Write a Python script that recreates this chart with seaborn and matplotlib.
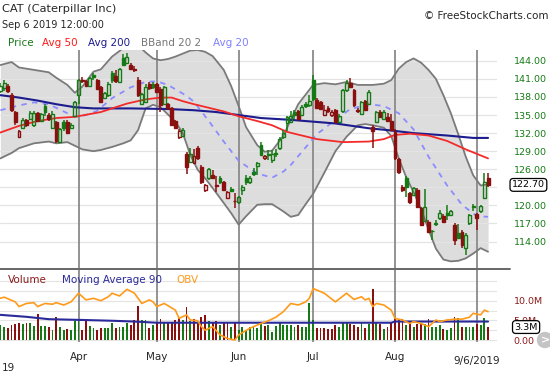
import numpy as np
import seaborn as sns
import matplotlib
matplotlib.use("Agg")
import matplotlib.pyplot as plt
from matplotlib.transforms import blended_transform_factory
from matplotlib.patches import Ellipse
from matplotlib.lines import Line2D

# CAT daily candles, trading days 1 Mar 2019 .. 6 Sep 2019 (index 0..131)
OPEN = [139.0, 139.5, 139.9, 138.3, 135.5, 131.4, 132.9, 134.2, 134.4, 133.3,
        135.3, 134.0, 136.5, 135.0, 132.8, 133.9, 130.6, 133.9, 133.9, 132.9,
        134.9, 138.3, 140.9, 140.6, 139.8, 141.7, 140.8, 139.7, 137.9, 138.3,
        141.9, 141.5, 140.5, 144.4, 143.6, 143.3, 142.6, 140.8, 136.9, 137.2,
        140.2, 140.2, 140.2, 139.4, 136.9, 136.8, 136.1, 134.0, 131.4, 131.6,
        128.5, 127.2, 127.0, 129.6, 126.4, 122.6, 124.5, 125.0, 123.3, 124.5,
        123.9, 121.3, 122.8, 120.8, 120.6, 122.6, 124.5, 123.9, 125.6, 126.5,
        130.0, 127.8, 128.6, 127.5, 128.7, 129.5, 131.4, 133.6, 133.9, 135.5,
        135.6, 135.0, 136.8, 136.6, 140.8, 137.5, 137.2, 135.0, 136.2, 135.0,
        135.8, 133.9, 135.7, 139.1, 140.3, 139.1, 135.8, 135.2, 137.3, 136.9,
        133.0, 133.9, 135.5, 134.4, 134.7, 134.0, 132.2, 127.7, 123.1, 124.5,
        122.0, 121.8, 122.6, 119.6, 117.4, 117.2, 115.8, 117.0, 117.9, 118.3,
        118.7, 118.4, 116.7, 115.4, 115.6, 112.9, 117.0, 119.9, 118.5, 119.0,
        121.2, 124.6]
HIGH = [140.3, 140.9, 140.2, 138.6, 135.7, 132.5, 134.5, 134.4, 135.6, 135.6,
        135.5, 135.4, 136.9, 135.4, 135.6, 134.0, 132.8, 134.1, 134.2, 133.6,
        137.3, 141.0, 141.3, 140.9, 141.3, 141.9, 141.0, 139.9, 138.8, 140.5,
        142.3, 142.4, 142.8, 145.2, 145.3, 143.6, 143.2, 141.3, 138.7, 140.1,
        140.5, 140.5, 140.4, 139.6, 139.9, 137.0, 136.3, 134.2, 132.6, 132.8,
        128.8, 129.5, 129.3, 129.9, 126.7, 123.6, 126.2, 125.8, 124.8, 124.8,
        124.1, 122.4, 123.1, 122.0, 121.6, 123.3, 125.0, 124.8, 126.2, 127.2,
        130.6, 128.4, 129.2, 129.2, 129.4, 131.3, 132.5, 134.9, 135.6, 135.9,
        135.9, 136.7, 137.1, 138.3, 141.6, 137.8, 137.4, 136.6, 136.5, 135.8,
        136.0, 135.2, 139.4, 140.9, 141.1, 139.3, 136.1, 137.4, 137.5, 139.1,
        133.4, 135.7, 135.8, 135.8, 135.4, 135.2, 132.6, 127.9, 123.4, 124.8,
        122.2, 123.1, 122.9, 119.8, 122.8, 117.5, 115.9, 117.6, 119.2, 118.6,
        120.1, 119.3, 117.0, 116.9, 115.9, 115.4, 118.6, 120.3, 118.7, 120.0,
        125.3, 125.3]
LOW = [138.6, 139.0, 138.6, 135.5, 133.4, 131.2, 132.6, 133.0, 134.1, 133.0,
       133.8, 133.8, 134.8, 134.0, 132.6, 130.4, 130.3, 132.3, 131.9, 132.7,
       134.7, 136.9, 140.4, 139.6, 139.6, 140.8, 139.3, 137.0, 137.6, 138.0,
       140.4, 140.3, 140.3, 143.2, 143.4, 142.5, 142.2, 138.0, 136.7, 137.0,
       139.2, 139.4, 138.7, 135.5, 136.6, 135.9, 133.1, 132.7, 131.1, 131.3,
       125.2, 127.0, 126.8, 127.6, 123.6, 122.3, 124.2, 124.3, 122.3, 123.6,
       122.4, 121.1, 122.3, 119.5, 120.3, 121.8, 123.4, 123.6, 124.9, 125.0,
       128.2, 127.5, 127.5, 127.1, 128.0, 129.2, 131.1, 132.3, 133.6, 134.4,
       134.2, 134.8, 136.1, 136.4, 137.3, 136.0, 135.9, 134.8, 135.4, 134.7,
       133.7, 133.6, 135.4, 138.8, 139.5, 136.4, 135.4, 135.0, 135.6, 136.6,
       129.6, 133.6, 134.5, 134.2, 133.9, 132.3, 127.6, 125.2, 122.3, 121.4,
       120.3, 121.6, 119.6, 116.5, 117.2, 115.4, 114.3, 116.6, 117.5, 117.0,
       117.6, 118.2, 113.5, 114.4, 113.0, 111.8, 116.8, 119.0, 115.9, 118.8,
       121.0, 123.0]
CLOSE = [139.8, 140.3, 139.0, 135.8, 133.8, 132.3, 134.2, 133.3, 135.3, 135.4,
         134.0, 135.1, 135.5, 134.3, 135.2, 130.7, 132.6, 132.9, 132.1, 133.4,
         137.1, 140.8, 140.7, 139.9, 141.1, 141.3, 139.4, 137.1, 138.6, 140.2,
         140.8, 140.6, 142.6, 143.3, 144.7, 142.6, 142.5, 138.4, 138.5, 139.7,
         139.5, 139.7, 138.9, 136.6, 139.7, 136.1, 133.3, 132.9, 132.3, 132.5,
         126.4, 128.6, 128.2, 127.8, 123.9, 123.4, 126.0, 124.5, 123.2, 123.8,
         122.6, 122.3, 122.45, 120.7, 121.4, 123.1, 123.9, 124.5, 125.2, 127.0,
         128.4, 128.2, 128.4, 128.5, 128.6, 131.1, 132.0, 134.7, 134.9, 135.0,
         134.4, 136.4, 136.5, 137.4, 137.6, 136.1, 136.0, 135.8, 135.6, 135.5,
         133.9, 134.8, 139.1, 140.4, 139.7, 136.6, 135.7, 137.1, 135.8, 138.9,
         132.4, 135.5, 134.7, 135.5, 134.0, 132.5, 127.8, 125.5, 122.6, 123.1,
         120.6, 122.9, 119.8, 116.7, 119.8, 115.6, 115.7, 116.9, 118.7, 117.2,
         118.4, 119.1, 114.3, 114.6, 113.4, 115.1, 118.4, 119.7, 117.9, 119.9,
         123.9, 123.4]
# volume in millions of shares
VOLUME = [3.8, 3.4, 3.0, 3.8, 4.2, 4.4, 4.2, 4.4, 4.4, 3.6,
          6.6, 3.6, 3.6, 3.4, 2.5, 5.8, 3.2, 2.5, 2.7, 2.5,
          4.9, 4.9, 2.5, 4.9, 3.6, 3.0, 2.5, 3.0, 3.0, 3.0,
          4.4, 3.0, 3.4, 3.4, 4.4, 3.8, 5.1, 8.7, 5.1, 5.1,
          3.0, 3.8, 4.4, 5.3, 4.4, 4.7, 4.7, 5.1, 5.5, 5.1,
          8.5, 4.9, 5.3, 4.7, 5.9, 6.4, 4.9, 4.7, 4.9, 3.8,
          4.7, 4.7, 3.4, 4.7, 2.5, 3.4, 2.5, 3.4, 3.6, 3.0,
          4.2, 3.6, 3.8, 2.1, 3.6, 4.7, 3.8, 3.8, 3.8, 3.4,
          3.8, 3.4, 3.4, 9.5, 5.1, 3.0, 3.0, 3.0, 2.7, 2.7,
          3.8, 3.4, 4.4, 4.4, 4.2, 3.8, 3.4, 4.7, 3.0, 4.2,
          12.9, 4.7, 4.2, 2.7, 3.4, 4.4, 5.5, 5.3, 5.3, 3.8,
          4.7, 3.4, 4.2, 4.2, 4.2, 5.3, 3.4, 3.4, 3.8, 2.7,
          2.5, 3.0, 5.8, 5.5, 3.4, 3.4, 3.4, 3.4, 4.2, 3.8,
          5.5, 3.3]

# indicators (day index, value)
MA50_X = [0, 5, 10, 15, 20, 27, 34, 39, 43, 46, 49, 52, 56, 60, 64, 69, 73, 77,
          85, 92, 99, 103, 106, 110, 115, 120, 125, 131]
MA50 = [132.1, 133.2, 134.0, 134.5, 134.7, 135.5, 136.9, 137.6, 137.9, 137.9,
        137.3, 136.8, 136.2, 135.6, 134.8, 134.0, 133.3, 132.2, 131.0, 130.5,
        130.6, 131.0, 131.7, 131.9, 131.6, 130.7, 129.3, 127.8]
MA200_X = [0, 5, 10, 15, 20, 25, 35, 45, 52, 58, 64, 70, 78, 90, 99, 104, 111,
           120, 127, 131]
MA200 = [138.3, 137.9, 137.4, 136.8, 136.3, 136.1, 136.1, 136.0, 135.8, 135.5,
         135.0, 134.5, 134.2, 133.6, 132.8, 132.5, 132.0, 131.6, 131.2, 131.2]
AVG20_X = [0, 5, 9, 13, 16, 20, 23, 26, 30, 35, 39, 42, 45, 50, 52, 56, 60, 64,
           69, 73, 76, 78, 81, 85, 90, 94, 99, 103, 107, 111, 115, 120, 124,
           128, 131]
AVG20 = [135.8, 136.6, 137.1, 136.8, 135.9, 134.7, 135.0, 135.7, 137.8, 139.6,
         140.5, 140.6, 140.0, 138.2, 137.2, 134.0, 130.6, 127.4, 125.3, 124.6,
         125.6, 126.7, 128.9, 131.8, 134.2, 136.0, 136.8, 136.5, 135.3, 132.6,
         128.1, 123.3, 120.1, 118.2, 118.1]
BB_X = [0, 3, 5, 9, 13, 15, 18, 20, 22, 25, 27, 30, 33, 35, 37, 39, 41, 43, 45,
        47, 49, 51, 53, 55, 57, 60, 62, 64, 66, 69, 71, 73, 76, 78, 80, 82, 84,
        87, 90, 93, 96, 98, 100, 103, 105, 107, 109, 111, 113, 115, 117, 119,
        121, 123, 125, 127, 129, 131]
BB_UPPER = [143.3, 143.8, 142.9, 142.5, 142.1, 141.2, 140.0, 138.7, 139.7, 142.2,
            142.6, 144.7, 146.1, 146.7, 146.6, 145.4, 144.4, 144.1, 144.3, 144.7,
            145.2, 145.7, 145.8, 145.5, 144.8, 142.5, 139.8, 136.5, 133.0, 130.0,
            128.9, 129.1, 131.5, 134.2, 136.8, 138.4, 140.0, 140.3, 140.1, 140.5,
            140.0, 140.0, 140.0, 140.2, 140.8, 142.7, 143.8, 144.4, 143.7, 142.5,
            141.0, 138.3, 135.3, 131.8, 128.1, 125.0, 123.3, 123.5]
BB_LOWER = [127.8, 128.7, 129.5, 130.3, 130.6, 130.3, 130.5, 129.9, 129.3, 129.0,
            129.2, 129.7, 130.3, 130.8, 132.5, 136.1, 136.7, 136.3, 135.1, 133.9,
            132.0, 128.4, 125.9, 124.5, 122.9, 120.4, 118.7, 116.8, 118.2, 120.1,
            120.2, 120.2, 119.0, 118.1, 118.4, 120.2, 121.9, 125.4, 129.0, 131.4,
            133.3, 133.5, 133.3, 132.9, 131.5, 127.8, 124.7, 122.2, 119.4, 116.0,
            112.8, 111.0, 110.7, 110.8, 111.2, 112.0, 112.9, 112.3]
MA90_X = [0, 7, 13, 22, 30, 36, 42, 60, 80, 100, 105, 106, 120, 131]
MA90 = [6.4, 5.9, 5.3, 5.1, 4.9, 4.7, 4.4, 4.4, 4.4, 4.4, 4.4, 4.7, 4.7, 4.7]
# on-balance volume, drawn on the volume panel scale
OBV_X = [0, 1, 4, 5, 7, 9, 10, 12, 14, 15, 17, 19, 21, 23, 25, 27, 29, 30, 32,
         34, 36, 38, 40, 41, 42, 44, 47, 48, 50, 51, 53, 54, 55, 57, 59, 61, 63,
         64, 67, 70, 72, 74, 76, 78, 80, 82, 83, 84, 87, 90, 93, 95, 97, 98, 99,
         100, 101, 103, 105, 106, 108, 110, 111, 113, 115, 117, 118, 120, 122,
         124, 126, 127, 129, 130, 131]
OBV = [10.6, 10.9, 9.7, 8.5, 9.3, 9.5, 8.5, 9.3, 9.1, 9.5, 8.9, 9.7, 11.9, 10.2,
       10.6, 10.0, 11.0, 11.9, 11.2, 12.9, 11.9, 9.3, 10.2, 9.7, 8.5, 9.3, 7.6,
       5.5, 6.4, 5.1, 4.9, 3.4, 2.5, 3.4, 1.3, 0.4, 0.0, 1.3, 3.0, 4.2, 4.9, 5.8,
       7.2, 9.3, 8.9, 9.7, 10.6, 13.1, 11.9, 9.7, 11.9, 10.3, 11.0, 10.2, 10.6,
       8.5, 9.3, 8.9, 7.6, 5.5, 5.1, 4.2, 4.7, 4.2, 3.4, 5.1, 4.7, 5.1, 5.3, 5.3,
       5.8, 6.8, 6.4, 7.6, 7.2]

MONTH_LINES = [21, 42, 64, 84, 106, 128]
MONTH_TICKS = [21, 42, 64, 84, 106]
MONTHS = ["Apr", "May", "Jun", "Jul", "Aug"]
PRICE_GRID = [114, 117, 120, 123, 126, 129, 132, 135, 138, 141, 144]
PRICE_TICKS = [114, 117, 120, 126, 129, 132, 135, 138, 141, 144]
VOL_GRID = [0, 2.5, 5, 7.5, 10, 12.5, 15]
VOL_LABELS = {0: "0.00", 5: "5.0M", 10: "10.0M"}
LAST_PRICE = "122.70"
LAST_VOL = "3.3M"

sns.set_style("white")
plt.rcParams["font.family"] = ["DejaVu Sans"]

GREEN = "#157a15"
RED = "#8a1010"
W, H = 550, 375


def fx(px):
    return px / W


def fy(py):
    return 1 - py / H


fig = plt.figure(figsize=(5.5, 3.75), dpi=100)
ax = fig.add_axes([0, fy(268), fx(497), fy(50) - fy(268)])
axv = fig.add_axes([0, fy(342), fx(497), fy(270) - fy(342)], sharex=ax)

days = np.arange(len(CLOSE))
o, h, l, c = map(np.array, (OPEN, HIGH, LOW, CLOSE))
prev = np.r_[c[0] - 1, c[:-1]]
colors = np.where(c >= prev, GREEN, RED)
hollow = c > o

# bollinger band
ax.fill_between(BB_X, BB_LOWER, BB_UPPER, color="#dddddd", lw=0, zorder=0.5)
for v in PRICE_GRID:
    ax.axhline(v, color="#e4e4e4", lw=0.9, zorder=0.7)
for m in MONTH_LINES:
    ax.axvline(m, color="#8a8a8a", lw=1.3, zorder=1.2)
    axv.axvline(m, color="#8a8a8a", lw=1.3, zorder=1.2)
sns.lineplot(x=BB_X, y=BB_UPPER, ax=ax, color="#7a7a7a", lw=1.3, zorder=1.5)
sns.lineplot(x=BB_X, y=BB_LOWER, ax=ax, color="#7a7a7a", lw=1.3, zorder=1.5)
sns.lineplot(x=AVG20_X, y=AVG20, ax=ax, color="#8c8cff", lw=1.3,
             linestyle=(0, (3, 3)), zorder=1.8)
sns.lineplot(x=MA200_X, y=MA200, ax=ax, color="#1c1c8e", lw=1.5, zorder=2)
sns.lineplot(x=MA50_X, y=MA50, ax=ax, color="#f42a2a", lw=1.3, zorder=2)

# candles
top = np.maximum(o, c)
bot = np.minimum(o, c)
ax.vlines(days, top, h, colors=colors, lw=1.1, zorder=3)
ax.vlines(days, l, bot, colors=colors, lw=1.1, zorder=3)
ax.bar(days, np.maximum(top - bot, 0.1), bottom=bot, width=0.78,
       color=list(np.where(hollow, "none", colors)), edgecolor=list(colors),
       linewidth=1.0, zorder=3)

ax.set_xlim(-0.1, 133.4)
ax.set_ylim(109.6, 145.8)
ax.yaxis.tick_right()
ax.set_yticks(PRICE_TICKS)
ax.set_yticklabels([f"{v:.2f}" for v in PRICE_TICKS])
ax.tick_params(axis="y", length=0, pad=12, labelsize=6.8, labelcolor=GREEN)
ax.tick_params(axis="x", bottom=False, labelbottom=False)
ax.set_xlabel("")
ax.set_ylabel("")
for s in ax.spines.values():
    s.set_visible(False)

tr = blended_transform_factory(ax.transAxes, ax.transData)
ax.text(1.03, c[-1], LAST_PRICE, transform=tr, ha="left", va="center",
        fontsize=6.8, color="black", clip_on=False, zorder=6,
        bbox=dict(boxstyle="round,pad=0.2,rounding_size=0.35", fc="white",
                  ec="black", lw=0.9))

# volume panel
axv.bar(days, VOLUME, width=0.5, color=list(colors), lw=0, zorder=2)
sns.lineplot(x=MA90_X, y=MA90, ax=axv, color="#2a2a9a", lw=1.5, zorder=3)
sns.lineplot(x=OBV_X, y=OBV, ax=axv, color="#ff9a1a", lw=1.2, zorder=4)
axv.set_ylim(-0.5, 17.8)
axv.yaxis.tick_right()
axv.set_yticks(VOL_GRID)
axv.set_yticklabels([VOL_LABELS.get(v, "") for v in VOL_GRID])
axv.grid(axis="y", color="#e4e4e4", lw=0.8)
axv.set_axisbelow(True)
axv.tick_params(axis="y", length=0, pad=12, labelsize=6.8, labelcolor="#8b1a1a")
axv.set_xticks(MONTH_TICKS)
axv.set_xticklabels(MONTHS)
axv.tick_params(axis="x", length=0, pad=7, labelsize=7.5)
axv.set_xlabel("")
axv.set_ylabel("")
for s in axv.spines.values():
    s.set_visible(False)

trv = blended_transform_factory(axv.transAxes, axv.transData)
axv.text(1.035, VOLUME[-1], LAST_VOL, transform=trv, ha="left", va="center",
         fontsize=6.8, color="black", clip_on=False, zorder=6,
         bbox=dict(boxstyle="round,pad=0.2,rounding_size=0.35", fc="white",
                   ec="black", lw=0.9))

# panel separator and headers
fig.add_artist(Line2D([0, fx(510)], [fy(269), fy(269)], color="#5a5a5a", lw=1.3))
fig.text(fx(2), fy(9), "CAT (Caterpillar Inc)", fontsize=8.2, va="center")
fig.text(fx(2), fy(25), "Sep 6 2019 12:00:00", fontsize=7, va="center")
fig.text(fx(548), fy(16), "\u00a9 FreeStockCharts.com", fontsize=7.5,
         va="center", ha="right")
for x, label, col in [(8, "Price", "#1b7a1b"), (42, "Avg 50", "#ff1a1a"),
                      (88, "Avg 200", "#1c1c8e"), (141, "BBand 20 2", "#777777"),
                      (213, "Avg 20", "#8080ff")]:
    fig.text(fx(x), fy(43), label, color=col, fontsize=7.5, va="center")
for x, label, col in [(8, "Volume", "#8b1a1a"), (62, "Moving Average 90", "#2a2a9a"),
                      (176, "OBV", "#ff9a1a")]:
    fig.text(fx(x), fy(280), label, color=col, fontsize=7.5, va="center")
fig.text(fx(2), fy(368), "19", fontsize=7.5, va="center")
fig.text(fx(500), fy(361), "9/6/2019", fontsize=7.5, va="center", ha="right")

fig.add_artist(Ellipse((fx(545), fy(340)), fx(15), 15 / H, color="#c4c4c4"))
fig.text(fx(545), fy(340), ">", color="white", fontsize=8, fontweight="bold",
         ha="center", va="center")

fig.savefig("out.png", dpi=100)
